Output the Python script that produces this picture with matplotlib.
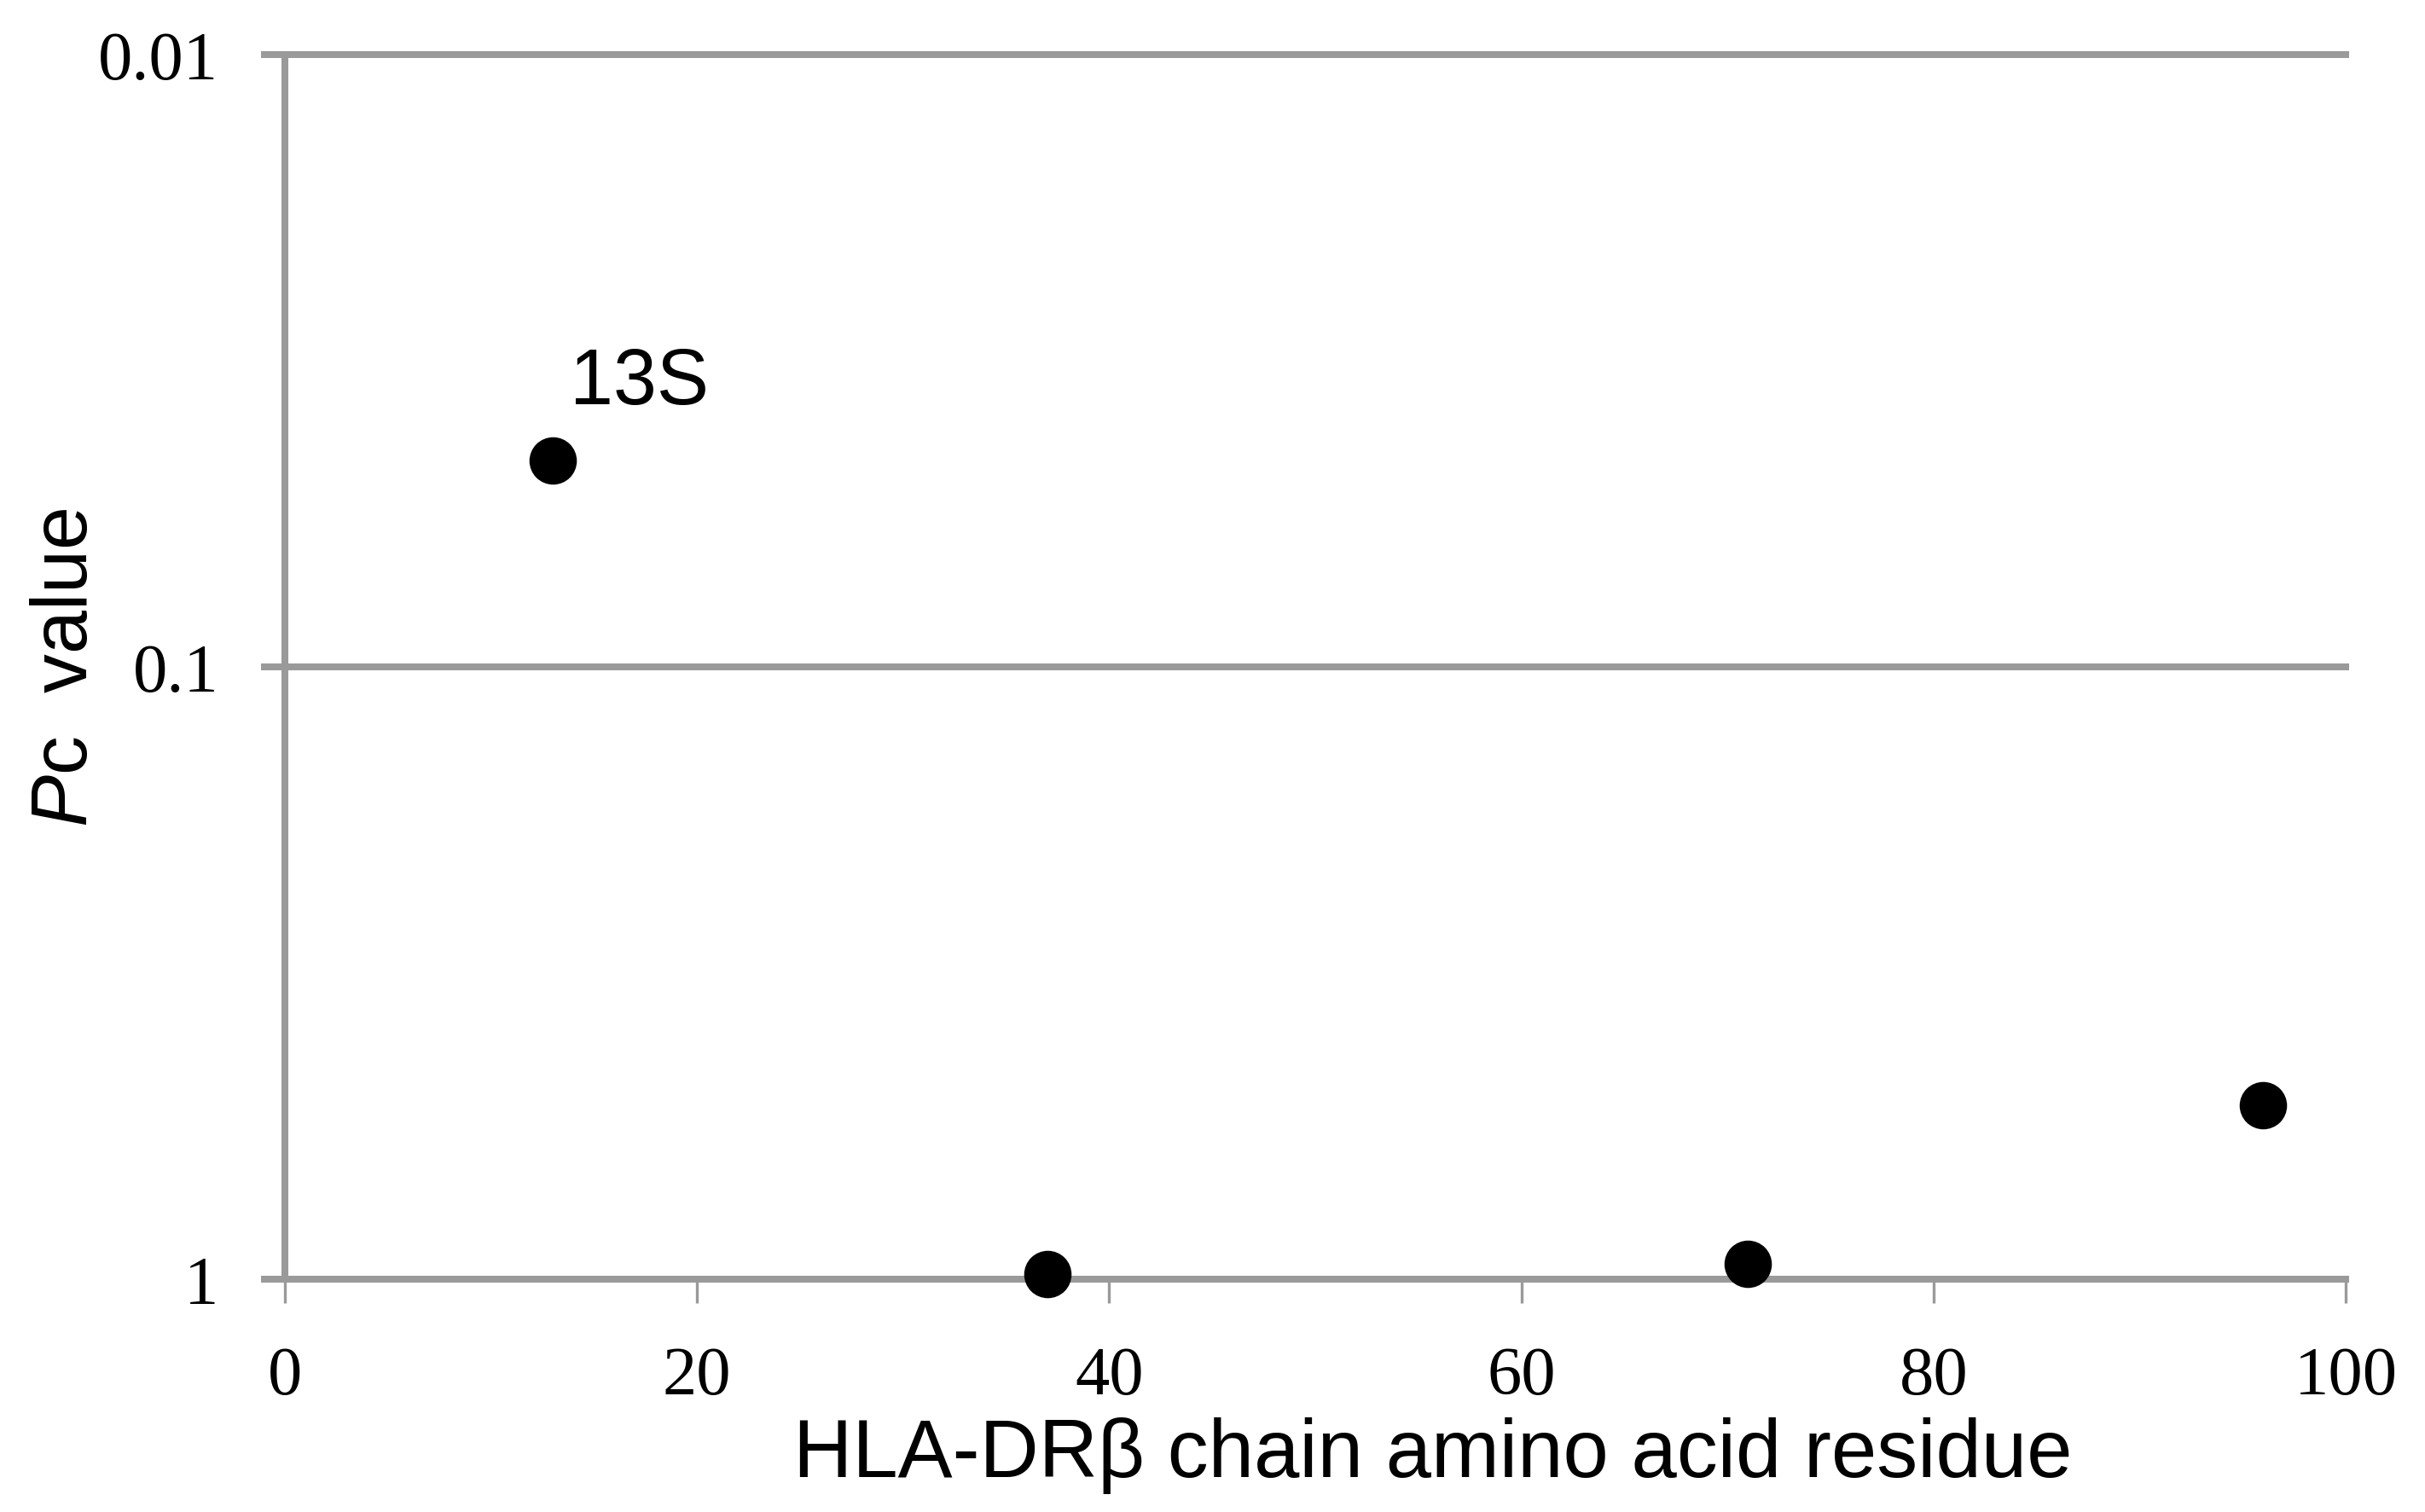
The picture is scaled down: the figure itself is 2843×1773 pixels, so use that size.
import matplotlib.pyplot as plt
from matplotlib.ticker import FixedLocator, FixedFormatter, NullLocator

plt.rcParams['mathtext.fontset'] = 'custom'
plt.rcParams['mathtext.it'] = 'Liberation Sans:italic'
plt.rcParams['mathtext.rm'] = 'Liberation Sans'

residue = [13, 37, 71, 96]
pc_value = [0.046, 0.98, 0.945, 0.52]
labels = ["13S", "", "", ""]

x_ticks = [0, 20, 40, 60, 80, 100]
y_ticks = [0.01, 0.1, 1]
y_tick_labels = ["0.01", "0.1", "1"]

fig = plt.figure(figsize=(14.215, 8.87), dpi=200)
ax = fig.add_axes([0.1175, 0.1539, 0.8498, 0.8095])

grey = "#9a9a9a"
ax.set_yscale("log")
ax.set_xlim(0, 100)
ax.set_ylim(1, 0.01)

for yv in y_ticks:
    ax.axhline(yv, color=grey, lw=2.9, zorder=1, clip_on=False)

ax.scatter(residue, pc_value, s=19**2, color="black", zorder=3, clip_on=False)
for x, y, t in zip(residue, pc_value, labels):
    if t:
        ax.annotate(t, (x, y), xytext=(7, 24), textcoords="offset points",
                    fontsize=33, family="Liberation Sans", ha="left", va="baseline")

for side in ["top", "right"]:
    ax.spines[side].set_visible(False)
ax.spines["left"].set_color(grey)
ax.spines["left"].set_linewidth(2.9)
ax.spines["bottom"].set_visible(False)

ax.xaxis.set_major_locator(FixedLocator(x_ticks))
ax.yaxis.set_major_locator(FixedLocator(y_ticks))
ax.yaxis.set_major_formatter(FixedFormatter(y_tick_labels))
ax.yaxis.set_minor_locator(NullLocator())
ax.tick_params(axis="both", length=10, width=1.2, color=grey, pad=18,
               labelsize=29)
ax.tick_params(axis="y", width=2.9)
for lab in ax.get_xticklabels() + ax.get_yticklabels():
    lab.set_family("Liberation Serif")

ax.set_xlabel("HLA-DRβ chain amino acid residue", fontsize=34.5,
              family="Liberation Sans")
ax.xaxis.set_label_coords(0.557, -0.112)
ax.set_ylabel(r"$\mathit{P}$c  value", fontsize=33, family="Liberation Sans")
ax.yaxis.set_label_coords(-0.088, 0.5)

fig.savefig("out.png", dpi=200)
